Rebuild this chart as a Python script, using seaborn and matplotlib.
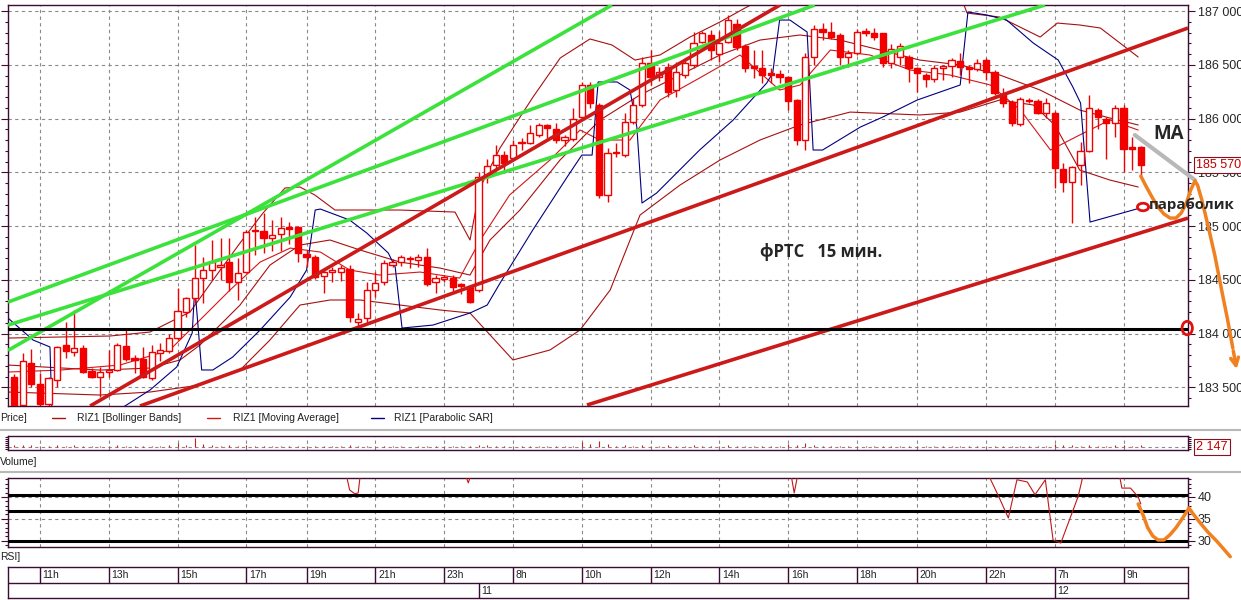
import numpy as np
import pandas as pd
import seaborn as sns
import matplotlib.pyplot as plt
from matplotlib.patches import Ellipse
from matplotlib.lines import Line2D
from matplotlib.ticker import MultipleLocator, FuncFormatter

sns.set_style("white")
plt.rcParams['font.family'] = ['Liberation Sans', 'DejaVu Sans']

# RIZ1, 15 min candles (index 0 = 10:15 on the 10th, last = 9:30 on the 12th)
opens = [183600, 183335, 183730, 183530, 183340, 183570, 183890, 183830, 183870, 183655,
         183600, 183645, 183665, 183885, 183770, 183760, 183585, 183815, 183840, 183960,
         184205, 184330, 184515, 184595, 184615, 184670, 184480, 184575, 184950, 184955,
         184885, 184930, 184990, 184990, 184740, 184715, 184535, 184570, 184575, 184600,
         184105, 184145, 184405, 184480, 184635, 184670, 184695, 184685, 184715, 184480,
         184505, 184520, 184455, 184435, 184405, 185460, 185565, 185660, 185630, 185770,
         185772, 185847, 185940, 185900, 185800, 185805, 186010, 186312, 186126, 185288,
         185675, 185660, 185970, 186126, 186520, 186390, 186480, 186265, 186405, 186498,
         186715, 186777, 186600, 186712, 186880, 186674, 186490, 186467, 186420, 186414,
         186383, 186172, 185800, 186572, 186830, 186807, 186777, 186575, 186607, 186814,
         186800, 186793, 186520, 186575, 186570, 186467, 186405, 186365, 186467, 186488,
         186535, 186482, 186458, 186544, 186435, 186228, 186156, 185949, 186170, 186166,
         186051, 186054, 185528, 185412, 185567, 185700, 186079, 185993, 185961, 186095,
         185733, 185733]
highs = [183620, 183820, 183860, 183630, 183600, 183880, 184110, 184220, 183890, 183680,
         183690, 183845, 183910, 184055, 183800, 183875, 183890, 183910, 184000, 184420,
         184340, 184820, 184710, 184870, 184890, 184890, 184700, 184960, 185085, 185120,
         185060, 185080, 185040, 185000, 184775, 184730, 184600, 184620, 184640, 184640,
         184190, 184480, 184570, 184685, 184690, 184730, 184720, 184740, 184800, 184540,
         184545, 184545, 184470, 184455, 185500, 185620, 185750, 185700, 185800, 185820,
         185940, 185960, 185950, 185960, 185850, 186100, 186340, 186340, 186140, 185730,
         185770, 186050, 186190, 186575, 186637, 186480, 186513, 186530, 186560, 186807,
         186810, 186825, 186810, 186960, 186930, 186690, 186637, 186637, 186470, 186450,
         186400, 186180, 186607, 186870, 186886, 186900, 186800, 186640, 186830, 186840,
         186839, 186800, 186690, 186700, 186590, 186480, 186420, 186500, 186500, 186560,
         186607, 186500, 186550, 186560, 186450, 186281, 186170, 186200, 186190, 186180,
         186188, 186070, 185583, 185560, 185784, 186219, 186100, 186010, 186126, 186126,
         185830, 185740]
lows = [183300, 183320, 183505, 183300, 183300, 183505, 183770, 183790, 183630, 183590,
        183410, 183600, 183650, 183740, 183635, 183585, 183570, 183745, 183815, 183940,
        184155, 184280, 184285, 184500, 184500, 184400, 184310, 184560, 184730, 184750,
        184770, 184770, 184830, 184670, 184620, 184510, 184375, 184480, 184490, 184110,
        184050, 184105, 184340, 184450, 184620, 184630, 184610, 184620, 184440, 184380,
        184480, 184400, 184370, 184280, 184390, 185400, 185530, 185490, 185620, 185710,
        185760, 185830, 185815, 185770, 185740, 185790, 186000, 186100, 185260, 185225,
        185640, 185640, 185950, 186110, 186312, 186350, 186203, 186203, 186380, 186470,
        186700, 186545, 186530, 186700, 186640, 186435, 186374, 186327, 186330, 186330,
        186080, 185750, 185707, 186498, 186730, 186740, 186498, 186482, 186590, 186770,
        186730, 186482, 186470, 186500, 186342, 186250, 186296, 186340, 186358, 186389,
        186405, 186327, 186440, 186358, 186220, 186110, 185930, 185930, 186140, 186040,
        186002, 185354, 185319, 185028, 185380, 185690, 185900, 185620, 185830, 185505,
        185520, 185465]
closes = [183330, 183740, 183530, 183340, 183585, 183875, 183840, 183870, 183645, 183600,
          183645, 183665, 183890, 183760, 183750, 183600, 183825, 183845, 183955, 184210,
          184330, 184515, 184595, 184670, 184640, 184480, 184565, 184945, 184960, 184885,
          184915, 184985, 184975, 184745, 184710, 184530, 184570, 184595, 184610, 184155,
          184135, 184405, 184470, 184655, 184670, 184715, 184690, 184710, 184465, 184520,
          184525, 184435, 184445, 184295, 185460, 185560, 185660, 185585, 185755, 185780,
          185865, 185940, 185910, 185800, 185830, 186000, 186312, 186140, 185288, 185680,
          185685, 185970, 186126, 186520, 186390, 186435, 186250, 186435, 186513, 186705,
          186792, 186637, 186702, 186916, 186662, 186467, 186467, 186405, 186405, 186383,
          186166, 185800, 186570, 186830, 186807, 186755, 186575, 186612, 186807, 186793,
          186755, 186514, 186644, 186674, 186467, 186420, 186365, 186467, 186488, 186544,
          186482, 186463, 186520, 186435, 186235, 186140, 185956, 186179, 186160, 186050,
          186144, 185537, 185412, 185552, 185700, 186095, 186012, 185961, 186095, 185714,
          185714, 185570]
volumes = [2500, 1800, 2200, 1500, 1200, 2000, 1400, 1800, 1300, 900,
           1100, 1500, 1700, 1200, 800, 1300, 1000, 1500, 2500, 4500,
           2000, 9500, 3000, 1800, 1500, 2200, 1300, 1700, 1100, 1000,
           900, 1200, 800, 1500, 900, 1300, 1000, 800, 700, 2500,
           1200, 1500, 1000, 900, 700, 600, 500, 700, 1500, 800,
           600, 900, 700, 1500, 2500, 1800, 1500, 1200, 1400, 900,
           1000, 1100, 800, 1200, 900, 1500, 5000, 3500, 6000, 3000,
           1500, 1800, 1200, 2200, 1500, 1000, 1600, 1300, 1000, 1800,
           1200, 1400, 1100, 1600, 1500, 1300, 900, 1100, 700, 800,
           3000, 2500, 4500, 2500, 1500, 1200, 1300, 900, 1000, 700,
           800, 1500, 1000, 900, 1200, 800, 700, 900, 600, 800,
           1000, 700, 600, 900, 1300, 1200, 1500, 1400, 600, 700,
           800, 2800, 1800, 2200, 1500, 2000, 1200, 1000, 2500, 1800,
           1300, 2147]

# indicator lines (candle index, value)
bb_up_i = [-0.72, 11.14, 15.79, 20.44, 23.12, 26.26, 28.93, 31.49, 33.23, 34.97, 37.3, 44.86,
           51.26, 53.0, 54.16, 56.49, 60.33, 63.49, 66.95, 69.51, 72.19, 75.09, 78.58, 82.07,
           84.98, 87.88, 110.0, 110.8, 114.6, 119.3, 121.3, 123.9, 126.3, 130.7]
bb_up_p = [183958, 183977, 184014, 184200, 184498, 184842, 185121, 185354, 185363, 185288, 185149, 185149,
           185130, 184870, 185354, 185726, 186200, 186563, 186740, 186684, 186544, 186591, 186758, 186898,
           187028, 187149, 187149, 186981, 186944, 186758, 186888, 186870, 186842, 186572]
bb_mid_i = [-0.72, 9.98, 15.79, 19.28, 21.6, 26.26, 29.74, 33.23, 36.72, 40.21, 44.86, 49.51, 53.0,
            55.33, 58.81, 63.47, 68.12, 72.77, 77.42, 82.07, 86.72, 91.37, 96.02, 100.7, 105.3, 110.0,
            114.6, 119.3, 123.9, 127.4, 130.7]
bb_mid_p = [183707, 183660, 183679, 183754, 183893, 184265, 184637, 184823, 184870, 184777, 184665, 184609, 184544,
            184870, 185149, 185614, 185986, 186219, 186405, 186591, 186730, 186777, 186730, 186637, 186544, 186498,
            186405, 186265, 186079, 186005, 185940]
bb_low_i = [-0.72, 9.98, 15.79, 21.6, 26.26, 29.74, 33.23, 36.72, 40.21, 44.86, 49.51, 53.0, 58.0, 62.3,
            65.8, 69.3, 72.77, 77.42, 82.07, 86.72, 91.37, 97.2, 105.3, 110.0, 114.6, 118.5, 121.0, 123.9,
            127.4, 130.7]
bb_low_p = [183456, 183428, 183456, 183521, 183660, 183940, 184265, 184312, 184312, 184265, 184219, 184191, 183754, 183847,
            184033, 184405, 185102, 185381, 185614, 185800, 185940, 186060, 186033, 186060, 186172, 186126, 185940, 185521,
            185428, 185363]
ma_i = [-0.72, 5.3, 12.3, 18.1, 21.6, 25.1, 28.6, 32.1, 35.6, 39.0, 42.5, 47.2, 51.8, 54.2, 57.6, 62.3, 65.8,
        68.1, 71.6, 75.1, 79.7, 84.4, 89.0, 91.4, 94.9, 99.5, 104.2, 108.8, 113.5, 117.0, 120.5, 123.9, 127.4, 130.7]
ma_p = [183642, 183660, 183707, 183847, 184126, 184405, 184665, 184795, 184758, 184591, 184544, 184572, 184516,
        184870, 185288, 185614, 185893, 185800, 185800, 186172, 186377, 186591, 186265, 186312, 186637, 186591,
        186451, 186405, 186312, 186079, 185707, 185847, 185986, 185893]
sar_i = [-0.72, 2.19, 4.16, 4.5, 12.88, 15.8, 18.9, 20.7, 21.0, 21.8, 23.1, 25.4, 28.6, 32.1, 34.0, 35.0,
         35.6, 39.0, 41.0, 43.5, 44.3, 45.1, 48.7, 53.0, 55.0, 56.5, 60.3, 64.3, 66.0, 67.2, 67.9, 70.1,
         71.6, 72.4, 73.0, 74.7, 79.7, 83.6, 87.5, 88.2, 89.0, 90.2, 92.2, 92.9, 94.0, 98.4, 101.0, 105.0,
         110.0, 110.9, 113.1, 115.4, 118.5, 121.4, 123.1, 124.0, 125.1, 130.9]
sar_p = [184144, 183940, 183875, 183000, 183326, 183475, 183689, 184005, 184433, 183661, 183661, 183781,
         184033, 184340, 184591, 185149, 185158, 185056, 184935, 184749, 184619, 184051, 184079, 184191,
         184265, 184470, 184963, 185456, 185660, 185660, 186340, 186340, 186265, 185921, 185214, 185307,
         185707, 185986, 186330, 186423, 186916, 186916, 186805, 185707, 185707, 185921, 186014, 186172,
         186312, 186991, 186963, 186916, 186702, 186544, 186293, 186144, 185037, 185167]

# RSI: only the parts that come down into the 28.6..44.3 window
rsi_i = [38.0, 38.7, 39.0, 39.6, 40.0, 40.2, 41.0, np.nan,
         52.3, 52.8, 53.3, np.nan,
         90.0, 90.4, 90.7, 91.0, 91.4, np.nan,
         113.0, 113.5, 114.5, 115.6, 116.6, 117.8, 118.7, 119.9, 120.8, 121.7, 123.7, 124.2, 124.8, np.nan,
         128.0, 128.6, 128.8, 129.8, 130.7, 131.0]
rsi_v = [47, 44.3, 41.6, 40.7, 40.9, 44.3, 47, np.nan,
         46, 43.2, 46, np.nan,
         47, 44.3, 40.9, 43.9, 47, np.nan,
         47, 44.1, 40.0, 35.2, 43.9, 43.4, 40.5, 43.9, 30.2, 29.5, 40.0, 44.1, 47, np.nan,
         47, 44.1, 42.0, 42.0, 40.0, 38.4]
rsi_levels = [40.4, 36.8, 30.0]

# trend lines drawn by hand on the chart: (i0, p0, i1, p1)
green_lines = [(-0.72, 183843, 69.51, 187056),
               (-0.72, 184293, 93.1, 187056),
               (-0.72, 184079, 119.86, 187056)]
red_lines = [(8.83, 183326, 89.05, 187056),
             (14.63, 183326, 136.49, 186842),
             (66.6, 183335, 136.49, 185074)]
support_level = 184040

# hand drawn forecast
fc_i = [131.0, 131.6, 132.3, 133.0, 133.7, 134.4, 135.1, 135.7, 136.3, 136.8, 137.3, 137.6, 138.1,
        138.8, 139.6, 140.4, 141.1, 141.7, 142.2]
fc_p = [185465, 185372, 185270, 185177, 185112, 185074, 185074, 185121, 185214, 185335, 185419, 185381,
        185242, 185009, 184730, 184405, 184126, 183865, 183642]
ma_ext_i = [130.3, 137.3]
ma_ext_p = [185847, 185428]
rsi_fc_i = [130.7, 131.3, 131.8, 132.4, 133.0, 133.7, 134.4, 135.1, 135.8, 136.4, 136.6, 137.1, 137.9,
            138.8, 139.8, 140.7, 141.4]
rsi_fc_v = [38.4, 35.7, 33.0, 31.1, 30.2, 30.2, 31.4, 33.0, 35.0, 36.8, 37.5, 36.1, 34.1, 32.0, 30.0, 28.0,
            26.4]

hour_idx = [3, 11, 19, 27, 34, 42, 50, 58, 66, 74, 82, 90, 98, 105, 113, 121, 129]
hour_lbl = ['11h', '13h', '15h', '17h', '19h', '21h', '23h', '8h', '10h', '12h', '14h', '16h',
            '18h', '20h', '22h', '7h', '9h']
day_idx = [54, 121]
day_lbl = ['11', '12']

RED = '#f20000'
TREND_RED = '#cc1a1a'
GREEN = '#3ce23c'
BB = '#a81010'
NAVY = '#000080'
ORANGE = '#f08020'
FRAME = '#3c0c32'
GRID = '#8a8a8a'
W, H = 1241, 600
XL = (-0.72, 136.49)
NOTE_FONT = ['Open Sans', 'DejaVu Sans']


def box(x0, y0, x1, y1):
    return [x0 / W, 1 - y1 / H, (x1 - x0) / W, (y1 - y0) / H]


def frame(ax):
    for s in ax.spines.values():
        s.set_color(FRAME)
        s.set_linewidth(1.0)


fig = plt.figure(figsize=(W / 100, H / 100), dpi=100)

df = pd.DataFrame({'o': opens, 'h': highs, 'l': lows, 'c': closes, 'v': volumes})
df['i'] = np.arange(len(df))
up = df['c'] >= df['o']

# ---------------- price panel ----------------
ax = fig.add_axes(box(8, 5, 1188, 406))
frame(ax)
ax.set_xlim(*XL)
ax.set_ylim(183326, 187056)
ax.set_xticks(hour_idx)
ax.set_yticks(range(183500, 187001, 500))
ax.yaxis.set_minor_locator(MultipleLocator(100))
ax.yaxis.set_major_formatter(FuncFormatter(lambda v, p: f"{int(v):,}".replace(',', ' ')))
ax.tick_params(axis='x', length=0, labelbottom=False)
ax.tick_params(axis='y', which='major', left=True, right=True, labelleft=False, labelright=True,
               direction='out', length=5, width=0.8, color=FRAME, labelsize=9, pad=2)
ax.tick_params(axis='y', which='minor', left=True, right=True, direction='out', length=2.5,
               width=0.8, color=FRAME)
ax.grid(True, which='major', ls=(0, (3, 3)), color=GRID, lw=0.8)

sns.lineplot(x=bb_up_i, y=bb_up_p, ax=ax, color=BB, lw=0.8, sort=False, estimator=None, zorder=2)
sns.lineplot(x=bb_mid_i, y=bb_mid_p, ax=ax, color=BB, lw=0.8, sort=False, estimator=None, zorder=2)
sns.lineplot(x=bb_low_i, y=bb_low_p, ax=ax, color=BB, lw=0.8, sort=False, estimator=None, zorder=2)
sns.lineplot(x=ma_i, y=ma_p, ax=ax, color='#d01818', lw=0.8, sort=False, estimator=None, zorder=2)
sns.lineplot(x=sar_i, y=sar_p, ax=ax, color=NAVY, lw=0.8, sort=False, estimator=None, zorder=2)

ax.vlines(df['i'], df['l'], df['h'], color=RED, lw=1.0, zorder=3)
ax.bar(df['i'][up], (df['c'] - df['o'])[up].clip(lower=12), bottom=df['o'][up], width=0.72,
       facecolor='white', edgecolor=RED, lw=1.0, zorder=4)
ax.bar(df['i'][~up], (df['o'] - df['c'])[~up].clip(lower=12), bottom=df['c'][~up], width=0.72,
       facecolor=RED, edgecolor=RED, lw=1.0, zorder=4)

for i0, p0, i1, p1 in green_lines:
    ax.plot([i0, i1], [p0, p1], color=GREEN, lw=2.6, zorder=5, solid_capstyle='butt')
for i0, p0, i1, p1 in red_lines:
    ax.plot([i0, i1], [p0, p1], color=TREND_RED, lw=2.6, zorder=5, solid_capstyle='butt')
ax.axhline(support_level, color='black', lw=2.2, zorder=5)

# hand drawn notes
ax.plot(ma_ext_i, ma_ext_p, color='#b8b8b8', lw=3, zorder=6, clip_on=False)
ax.plot(fc_i[:-1], fc_p[:-1], color=ORANGE, lw=2.5, zorder=7, clip_on=False)
ax.annotate('', xy=(fc_i[-1], fc_p[-1]), xytext=(fc_i[-2], fc_p[-2]), annotation_clip=False,
            arrowprops=dict(arrowstyle='->', color=ORANGE, lw=2.5, mutation_scale=14), zorder=7)
ax.add_patch(Ellipse((131.26, 185177), 1.3, 70, facecolor='white', edgecolor='#e01010', lw=2,
                     zorder=8, clip_on=False))
ax.add_patch(Ellipse((136.4, 184051), 1.2, 125, facecolor='none', edgecolor='#e01010', lw=2,
                     zorder=8, clip_on=False))
ax.text(86.7, 184760, 'фРТС   15 мин.', family=NOTE_FONT, fontweight='bold',
        fontsize=12, ha='left', va='center', zorder=8)
ax.text(132.5, 185856, 'MA', family=NOTE_FONT, fontweight='bold', fontsize=13.5,
        ha='left', va='center', zorder=8)
ax.text(131.9, 185200, 'параболик', family=NOTE_FONT, fontweight='bold',
        fontsize=10.8, ha='left', va='center', zorder=8)
ax.annotate(f"{closes[-1]:,}".replace(',', ' '), xy=(1, closes[-1]), xycoords=('axes fraction', 'data'),
            xytext=(6, 0), textcoords='offset points', ha='left', va='center', fontsize=9,
            color='#c00000', bbox=dict(boxstyle='square,pad=0.15', fc='white', ec='#8a1020', lw=0.8),
            zorder=9, annotation_clip=False)

# legend strip
ly = 1 - 418 / H
fig.text(0, ly, 'Price]', fontsize=7.5, va='center', ha='left', color='#202020')
for (x0, x1, col, tx, lab) in [(52, 65, BB, 77, 'RIZ1 [Bollinger Bands]'),
                               (207, 220, '#d01818', 233, 'RIZ1 [Moving Average]'),
                               (371, 384, NAVY, 394, 'RIZ1 [Parabolic SAR]')]:
    fig.add_artist(Line2D([x0 / W, x1 / W], [ly, ly], color=col, lw=1))
    fig.text(tx / W, ly, lab, fontsize=7.5, va='center', ha='left', color='#202020')
for yy in (430, 472):
    fig.add_artist(Line2D([0, 1], [1 - yy / H] * 2, color='#b8b8b8', lw=1.5))

# ---------------- volume panel ----------------
axv = fig.add_axes(box(8, 436, 1188, 450))
frame(axv)
axv.set_xlim(*XL)
axv.set_ylim(-3000, 11000)
axv.set_xticks(hour_idx)
axv.set_yticks([])
axv.yaxis.set_minor_locator(MultipleLocator(2000))
axv.tick_params(axis='x', length=0, labelbottom=False)
axv.tick_params(axis='y', which='minor', left=True, right=True, direction='out', length=2.5,
                width=0.8, color=FRAME)
axv.grid(True, axis='x', ls=(0, (3, 3)), color=GRID, lw=0.8)
axv.axhline(0, ls=(0, (3, 3)), color=GRID, lw=0.8)
axv.vlines(df['i'], 0, df['v'], color='#c02020', lw=0.8)
axv.annotate(f"{volumes[-1]:,}".replace(',', ' '), xy=(1, 0), xycoords=('axes fraction', 'data'),
             xytext=(6, 0), textcoords='offset points', ha='left', va='center', fontsize=9,
             color='#c00000', bbox=dict(boxstyle='square,pad=0.15', fc='white', ec='#8a1020', lw=0.8),
             annotation_clip=False)
fig.text(0, 1 - 462 / H, 'Volume]', fontsize=7.5, va='center', ha='left', color='#202020')

# ---------------- RSI panel ----------------
axr = fig.add_axes(box(8, 478, 1188, 547))
frame(axr)
axr.set_xlim(*XL)
axr.set_ylim(28.6, 44.3)
axr.set_xticks(hour_idx)
axr.set_yticks([30, 35, 40])
axr.yaxis.set_minor_locator(MultipleLocator(1))
axr.tick_params(axis='x', length=0, labelbottom=False)
axr.tick_params(axis='y', which='major', left=True, right=True, labelleft=False, labelright=True,
                direction='out', length=5, width=0.8, color=FRAME, labelsize=9, pad=2)
axr.tick_params(axis='y', which='minor', left=True, right=True, direction='out', length=2.5,
                width=0.8, color=FRAME)
axr.grid(True, ls=(0, (3, 3)), color=GRID, lw=0.8)
for lv in rsi_levels:
    axr.axhline(lv, color='black', lw=2.2, zorder=3)
axr.plot(rsi_i, rsi_v, color='#c01818', lw=0.8, zorder=4)
axr.plot(rsi_fc_i, rsi_fc_v, color=ORANGE, lw=2.5, zorder=6, clip_on=False)
fig.text(0, 1 - 557 / H, 'RSI]', fontsize=7.5, va='center', ha='left', color='#202020')

# ---------------- time axis ----------------
axt = fig.add_axes(box(8, 567, 1188, 598))
frame(axt)
axt.set_xlim(*XL)
axt.set_ylim(0, 2)
axt.set_xticks([])
axt.set_yticks([])
axt.axhline(1, color=FRAME, lw=1)
for hi, hl in zip(hour_idx, hour_lbl):
    axt.plot([hi, hi], [1, 2], color=FRAME, lw=1)
    axt.text(hi + 0.3, 1.47, hl, fontsize=7.5, ha='left', va='center', color='#202020')
for di, dl in zip(day_idx, day_lbl):
    axt.plot([di, di], [0, 1], color=FRAME, lw=1)
    axt.text(di + 0.3, 0.47, dl, fontsize=7.5, ha='left', va='center', color='#202020')

fig.savefig('out.png', dpi=100)
